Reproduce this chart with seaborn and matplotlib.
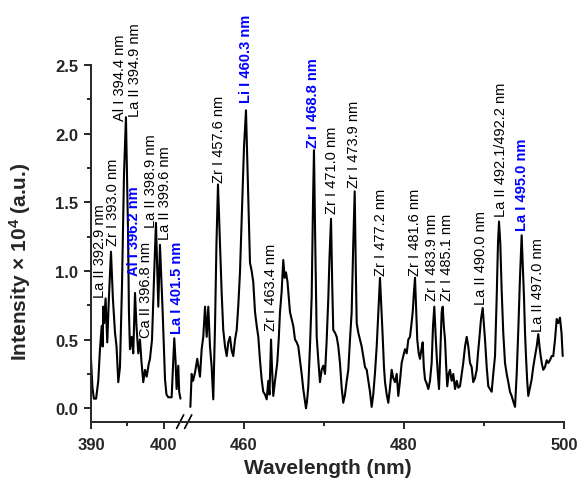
import numpy as np
import pandas as pd
import matplotlib
matplotlib.use("Agg")
import matplotlib.pyplot as plt
import seaborn as sns

# ---------------- data ----------------
wl_left = [390.0, 390.2, 390.4, 390.7, 391.0, 391.23, 391.47, 391.6, 391.68, 391.8,
           392.0, 392.23, 392.45, 392.74, 393.0, 393.29, 393.5, 393.74, 393.97, 394.25,
           394.52, 394.79, 395.07, 395.2, 395.34, 395.58, 395.79, 396.03, 396.23, 396.48,
           396.71, 396.9, 397.16, 397.4, 397.63, 397.9, 398.08, 398.36, 398.63, 398.9,
           399.22, 399.45, 399.82, 400.14, 400.34, 400.59, 401.05, 401.23, 401.41, 401.58,
           401.73, 401.96, 402.08, 402.26]
int_left = [0.36, 0.15, 0.07, 0.07, 0.20, 0.43, 0.60, 0.45, 0.74, 0.62,
            0.80, 0.48, 0.80, 1.14, 0.80, 0.55, 0.45, 0.19, 0.30, 0.90,
            1.70, 2.12, 1.30, 0.70, 0.43, 0.52, 0.40, 0.84, 0.60, 0.40,
            0.50, 0.35, 0.19, 0.28, 0.23, 0.32, 0.36, 0.50, 0.94, 1.35,
            0.74, 1.19, 0.70, 0.21, 0.10, 0.08, 0.08, 0.30, 0.51, 0.35,
            0.14, 0.31, 0.12, 0.07]

wl_right = [453.25, 453.46, 453.63, 453.88, 454.16, 454.5, 454.71, 454.91, 455.13, 455.34,
            455.54, 455.75, 455.96, 456.16, 456.38, 456.56, 456.75, 456.94, 457.21, 457.41,
            457.63, 457.84, 458.04, 458.25, 458.46, 458.66, 458.88, 459.09, 459.29, 459.5,
            459.75, 460.0, 460.25, 460.5, 460.75, 460.96, 461.16, 461.38, 461.59, 461.79,
            462.0, 462.21, 462.41, 462.63, 462.84, 463.04, 463.19, 463.38, 463.5, 463.66,
            463.88, 464.16, 464.34, 464.5, 464.71, 464.91, 465.09, 465.25, 465.44, 465.75,
            465.96, 466.16, 466.38, 466.59, 466.79, 467.0, 467.21, 467.41, 467.63, 467.75,
            467.88, 468.04, 468.25, 468.46, 468.63, 468.75, 468.91, 469.09, 469.29, 469.5,
            469.71, 469.91, 470.13, 470.34, 470.54, 470.69, 470.88, 471.03, 471.16, 471.38,
            471.59, 471.79, 472.0, 472.21, 472.41, 472.63, 472.84, 473.04, 473.25, 473.46,
            473.66, 473.84, 473.98, 474.09, 474.29, 474.5, 474.71, 474.91, 475.13, 475.34,
            475.54, 475.75, 475.96, 476.16, 476.38, 476.59, 476.79, 477.0, 477.16, 477.34,
            477.5, 477.63, 477.84, 478.04, 478.25, 478.46, 478.66, 478.88, 479.09, 479.29,
            479.5, 479.71, 479.91, 480.13, 480.34, 480.54, 480.75, 480.91, 481.09, 481.25,
            481.38, 481.53, 481.66, 481.84, 482.0, 482.16, 482.34, 482.48, 482.63, 482.84,
            483.04, 483.25, 483.46, 483.63, 483.79, 483.94, 484.09, 484.23, 484.38, 484.54,
            484.71, 484.84, 484.98, 485.13, 485.28, 485.41, 485.59, 485.75, 485.96, 486.16,
            486.38, 486.59, 486.79, 487.0, 487.21, 487.41, 487.63, 487.84, 488.04, 488.25,
            488.46, 488.66, 488.88, 489.09, 489.25, 489.41, 489.63, 489.84, 490.0, 490.13,
            490.34, 490.54, 490.75, 490.96, 491.16, 491.38, 491.59, 491.75, 491.88, 492.04,
            492.21, 492.41, 492.63, 492.84, 493.04, 493.25, 493.46, 493.66, 493.88, 494.09,
            494.29, 494.5, 494.71, 494.88, 495.0, 495.13, 495.25, 495.4, 495.54, 495.75,
            495.96, 496.16, 496.38, 496.59, 496.79, 496.94, 497.09, 497.25, 497.41, 497.63,
            497.84, 498.04, 498.25, 498.46, 498.66, 498.88, 499.09, 499.29, 499.5, 499.69,
            499.84]
int_right = [0.01, 0.25, 0.20, 0.26, 0.36, 0.23, 0.43, 0.52, 0.74, 0.52,
             0.74, 0.45, 0.30, 0.065, 0.60, 1.20, 1.63, 1.30, 0.84, 0.57,
             0.45, 0.38, 0.48, 0.52, 0.42, 0.38, 0.50, 0.57, 0.75, 0.99,
             1.45, 1.90, 2.17, 1.60, 1.06, 1.00, 0.92, 0.70, 0.60, 0.52,
             0.35, 0.21, 0.12, 0.10, 0.065, 0.20, 0.10, 0.50, 0.30, 0.09,
             0.20, 0.33, 0.50, 0.70, 0.85, 1.08, 0.95, 0.99, 0.92, 0.70,
             0.65, 0.60, 0.50, 0.48, 0.45, 0.35, 0.25, 0.14, 0.05, 0.00,
             0.05, 0.16, 0.45, 0.81, 1.50, 1.88, 1.20, 0.52, 0.35, 0.19,
             0.28, 0.31, 0.25, 0.50, 0.80, 1.10, 1.38, 0.90, 0.57, 0.55,
             0.52, 0.45, 0.33, 0.15, 0.04, 0.10, 0.20, 0.28, 0.50, 0.70,
             1.20, 1.58, 1.00, 0.62, 0.55, 0.50, 0.45, 0.38, 0.30, 0.28,
             0.20, 0.12, 0.01, 0.10, 0.26, 0.45, 0.70, 0.95, 0.75, 0.52,
             0.30, 0.19, 0.10, 0.04, 0.15, 0.28, 0.22, 0.19, 0.25, 0.09,
             0.20, 0.33, 0.38, 0.43, 0.40, 0.50, 0.52, 0.60, 0.70, 0.85,
             0.95, 0.70, 0.50, 0.40, 0.36, 0.42, 0.48, 0.30, 0.21, 0.18,
             0.14, 0.20, 0.33, 0.60, 0.74, 0.55, 0.38, 0.25, 0.14, 0.40,
             0.70, 0.74, 0.60, 0.50, 0.30, 0.16, 0.25, 0.28, 0.20, 0.25,
             0.14, 0.20, 0.15, 0.16, 0.25, 0.33, 0.45, 0.52, 0.45, 0.33,
             0.30, 0.19, 0.22, 0.28, 0.40, 0.50, 0.65, 0.73, 0.60, 0.50,
             0.30, 0.16, 0.14, 0.12, 0.25, 0.38, 0.81, 1.20, 1.36, 1.20,
             0.86, 0.55, 0.33, 0.25, 0.19, 0.12, 0.09, 0.05, 0.01, 0.25,
             0.57, 0.95, 1.26, 1.00, 0.81, 0.55, 0.38, 0.20, 0.09, 0.15,
             0.21, 0.30, 0.38, 0.45, 0.54, 0.45, 0.38, 0.32, 0.28, 0.30,
             0.35, 0.33, 0.35, 0.38, 0.38, 0.50, 0.65, 0.62, 0.66, 0.55,
             0.38]

# peak labels: text, x (nm), y (label base, x10^4), colour
label_texts = ["La II 392.9 nm", "Zr I 393.0 nm", "Al I 394.4 nm", "La II 394.9 nm",
               "Al I 396.2 nm", "Ca II 396.8 nm", "La II 398.9 nm", "La II 399.6 nm",
               "La I 401.5 nm", "Zr I 457.6 nm", "Li I 460.3 nm", "Zr I 463.4 nm",
               "Zr I 468.8 nm", "Zr I 471.0 nm", "Zr I 473.9 nm", "Zr I 477.2 nm",
               "Zr I 481.6 nm", "Zr I 483.9 nm", "Zr I 485.1 nm", "La II 490.0 nm",
               "La II 492.1/492.2 nm", "La I 495.0 nm", "La II 497.0 nm"]
label_x = [391.25, 392.95, 393.97, 395.98, 395.96, 397.53, 398.18, 400.08,
           401.78, 456.88, 460.25, 463.38, 468.63, 471.0, 473.75, 477.13,
           481.38, 483.5, 485.38, 489.63, 492.13, 494.75, 496.75]
label_y = [0.81, 1.19, 2.10, 2.13, 0.97, 0.52, 1.32, 1.23,
           0.55, 1.65, 2.23, 0.57, 1.90, 1.42, 1.61, 0.97,
           0.97, 0.79, 0.79, 0.76, 1.40, 1.30, 0.56]
label_colors = ["black", "black", "black", "black", "blue", "black", "black", "black",
                "blue", "black", "blue", "black", "blue", "black", "black", "black",
                "black", "black", "black", "black", "black", "blue", "black"]

x_major = [390, 400, 460, 480, 500]
x_minor = [395, 470, 490]
y_major = [0.0, 0.5, 1.0, 1.5, 2.0, 2.5]
y_minor = [0.25, 0.75, 1.25, 1.75, 2.25]

# ---------------- style ----------------
sns.set_style("ticks")
plt.rcParams["font.family"] = ["Liberation Sans", "DejaVu Sans"]
plt.rcParams["mathtext.default"] = "regular"

df_left = pd.DataFrame({"Wavelength": wl_left, "Intensity": int_left})
df_right = pd.DataFrame({"Wavelength": wl_right, "Intensity": int_right})

fig = plt.figure(figsize=(5.81, 4.81), dpi=100)
ax = fig.add_axes([0.1566, 0.1206, 0.8141, 0.7422])

# broken x axis through a piecewise-linear function scale
WL_K = [380.0, 390.0, 402.5, 453.3, 500.0, 510.0]
PX_K = [-73.0, 0.0, 91.25, 99.4, 473.0, 553.0]


def fwd(x):
    return np.interp(x, WL_K, PX_K)


def inv(p):
    return np.interp(p, PX_K, WL_K)


ax.set_xscale("function", functions=(fwd, inv))

for d in (df_left, df_right):
    sns.lineplot(data=d, x="Wavelength", y="Intensity", ax=ax, color="black",
                 lw=1.5, sort=False, estimator=None)

ax.set_xlim(390, 500)
ax.set_ylim(-0.1, 2.5)
ax.set_xticks(x_major)
ax.set_xticks(x_minor, minor=True)
ax.set_xticklabels([str(v) for v in x_major])
ax.set_yticks(y_major)
ax.set_yticks(y_minor, minor=True)
ax.set_yticklabels([f"{v:.1f}" for v in y_major])

for lab in ax.get_xticklabels() + ax.get_yticklabels():
    lab.set_fontweight("bold")
    lab.set_fontsize(12)

ax.tick_params(which="major", length=5, width=1.4, direction="out", pad=4)
ax.tick_params(axis="x", which="major", pad=6)
ax.tick_params(which="minor", length=3, width=1.4, direction="out")
sns.despine(ax=ax)
for s in ("left", "bottom"):
    ax.spines[s].set_linewidth(1.4)

ax.set_xlabel("Wavelength (nm)", fontsize=15, fontweight="bold")
ax.set_ylabel("Intensity × 10$^\\mathregular{4}$ (a.u.)", fontsize=15, fontweight="bold")
ax.xaxis.set_label_coords(0.501, -0.10)
ax.yaxis.set_label_coords(-0.123, 0.452)

# break marks on the x axis
for x0 in (0.181, 0.198):
    ax.plot([x0, x0 + 0.015], [-0.018, 0.020], transform=ax.transAxes,
            color="black", lw=1.2, clip_on=False)

for t, x, y, c in zip(label_texts, label_x, label_y, label_colors):
    ax.text(x, y, t, rotation=90, ha="center", va="bottom", fontsize=10.5,
            color=c, fontweight=("bold" if c == "blue" else "normal"), clip_on=False)

fig.savefig("out.png", dpi=100)
